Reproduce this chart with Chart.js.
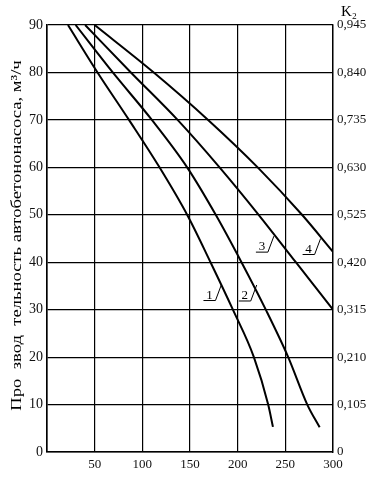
<!DOCTYPE html>
<html>
<head>
<meta charset="utf-8">
<script src="https://cdn.jsdelivr.net/npm/chart.js@4"></script>
<style>
html,body{margin:0;padding:0;background:#fff;}
#wrap{width:378px;height:479px;}
</style>
</head>
<body>
<div id="wrap"><canvas id="c" width="378" height="479"></canvas></div>
<script>
// ---- data ----
const curve1X = [22, 53, 86, 118, 147, 171.5, 195, 217, 232, 237];
const curve1Y = [90, 80, 70, 60, 50, 40, 30, 20, 10, 5.3];
const curve2X = [30, 69, 110, 147, 177, 204, 229.5, 253, 273, 286];
const curve2Y = [90, 80, 70, 60, 50, 40, 30, 20, 10, 5.2];
const curve3X = [40, 88, 137, 181, 222, 261, 300];
const curve3Y = [90, 80, 70, 60, 50, 40, 30];
const curve4X = [50, 112, 169, 221, 267.5, 300];
const curve4Y = [90, 80, 70, 60, 50, 42.2];
const seriesNames = ['1', '2', '3', '4'];
const labelAnchorX = [183, 220, 238, 287];
const labelAnchorY = [35.3, 35.2, 45.5, 45];
const xTicks = [0, 50, 100, 150, 200, 250, 300];
const yTicks = [0, 10, 20, 30, 40, 50, 60, 70, 80, 90];
const k2Ticks = [0, 0.105, 0.210, 0.315, 0.420, 0.525, 0.630, 0.735, 0.840, 0.945];
const k2Labels = ['0', '0,105', '0,210', '0,315', '0,420', '0,525', '0,630', '0,735', '0,840', '0,945'];
const yTitle = 'Про  звод  тельность автобетононасоса, м³/ч';
const k2Title = 'K₂';

const toPts = (xs, ys) => xs.map((x, i) => ({x: x, y: ys[i]}));
const SERIF = '"Liberation Serif", "Times New Roman", serif';

const lineStyle = {
  borderColor: '#000', borderWidth: 2, pointRadius: 0, fill: false,
  cubicInterpolationMode: 'monotone', showLine: true
};

const decor = {
  id: 'decor',
  afterDraw(chart) {
    const ctx = chart.ctx;
    const xs = chart.scales.x, ys = chart.scales.y, ca = chart.chartArea;
    ctx.save();
    ctx.fillStyle = '#000';
    ctx.strokeStyle = '#000';
    // curve labels with leader
    ctx.lineWidth = 1;
    ctx.font = '13px ' + SERIF;
    ctx.textAlign = 'center';
    ctx.textBaseline = 'alphabetic';
    seriesNames.forEach((t, i) => {
      const px = xs.getPixelForValue(labelAnchorX[i]);
      const py = ys.getPixelForValue(labelAnchorY[i]);
      const bx = px - 6, by = py + 16;
      ctx.beginPath();
      ctx.moveTo(px, py); ctx.lineTo(bx, by); ctx.lineTo(bx - 12, by);
      ctx.stroke();
      ctx.fillText(t, bx - 6, by - 2);
    });
    // K2 title
    ctx.font = '15px ' + SERIF;
    ctx.textAlign = 'left';
    ctx.textBaseline = 'middle';
    ctx.fillText(k2Title, ca.right + 8, ca.top - 13);
    // rotated y title
    ctx.font = '14px ' + SERIF;
    ctx.translate(17, (ca.top + ca.bottom) / 2 - 3);
    ctx.rotate(-Math.PI / 2);
    ctx.scale(1.33, 1);
    ctx.textAlign = 'center';
    ctx.fillText(yTitle, 0, 0);
    ctx.restore();
  }
};

new Chart(document.getElementById('c'), {
  type: 'scatter',
  data: {
    datasets: [
      Object.assign({label: seriesNames[0], data: toPts(curve1X, curve1Y)}, lineStyle),
      Object.assign({label: seriesNames[1], data: toPts(curve2X, curve2Y)}, lineStyle),
      Object.assign({label: seriesNames[2], data: toPts(curve3X, curve3Y)}, lineStyle),
      Object.assign({label: seriesNames[3], data: toPts(curve4X, curve4Y)}, lineStyle)
    ]
  },
  options: {
    responsive: false,
    animation: false,
    layout: {padding: {top: 25, left: 0, right: 0, bottom: 0}},
    plugins: {legend: {display: false}, tooltip: {enabled: false}},
    scales: {
      x: {
        type: 'linear', position: 'bottom', min: 0, max: 300,
        afterBuildTicks: s => { s.ticks = xTicks.map(v => ({value: v})); },
        afterFit: s => { s.height = 27; },
        ticks: {
          color: '#111', font: {family: SERIF, size: 13}, padding: 5, maxRotation: 0,
          callback: v => (v === 0 ? '' : String(v))
        },
        grid: {color: '#000', lineWidth: 1.2, drawTicks: false},
        border: {color: '#000', width: 1.6}
      },
      y: {
        type: 'linear', position: 'left', min: 0, max: 90,
        afterBuildTicks: s => { s.ticks = yTicks.map(v => ({value: v})); },
        afterFit: s => { s.width = 47; },
        ticks: {color: '#111', font: {family: SERIF, size: 14}, padding: 4},
        grid: {color: '#000', lineWidth: 1.2, drawTicks: false},
        border: {color: '#000', width: 1.6},
        title: {display: false}
      },
      y2: {
        type: 'linear', position: 'right', min: 0, max: 0.945,
        afterBuildTicks: s => { s.ticks = k2Ticks.map(v => ({value: v})); },
        afterFit: s => { s.width = 45; },
        ticks: {
          color: '#111', font: {family: SERIF, size: 13}, padding: 4,
          callback: (v, i) => k2Labels[i]
        },
        grid: {drawOnChartArea: false, drawTicks: false},
        border: {color: '#000', width: 1.4}
      }
    }
  },
  plugins: [decor]
});
</script>
</body>
</html>
